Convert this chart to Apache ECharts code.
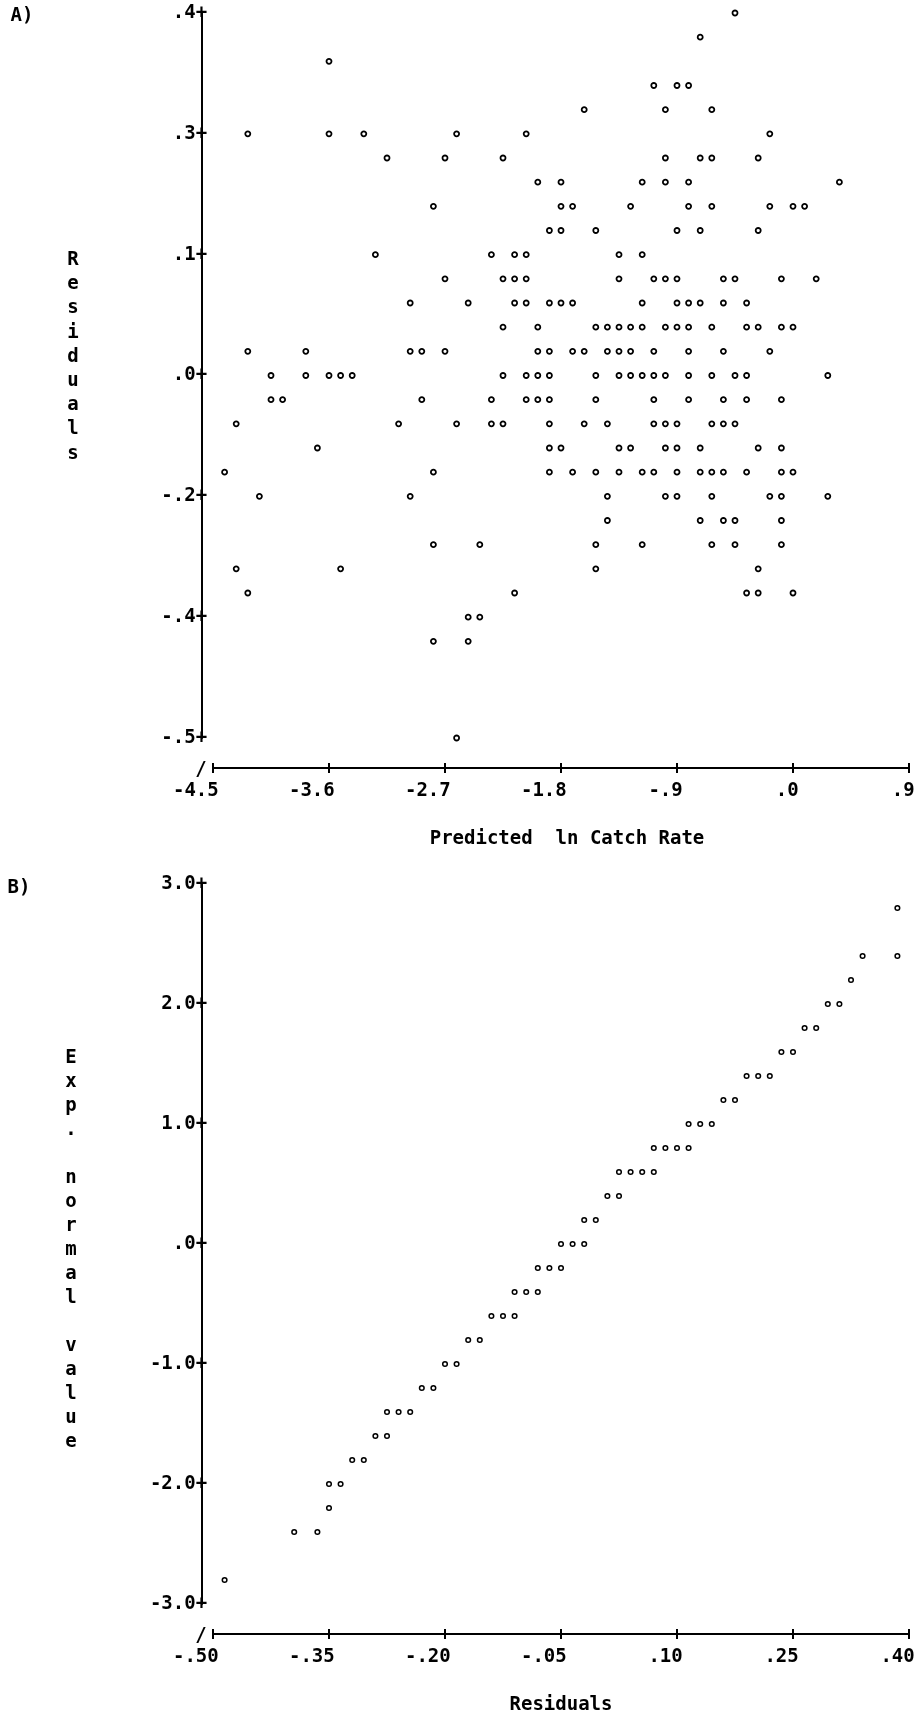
<!DOCTYPE html>
<html>
<head>
<meta charset="utf-8">
<script src="https://cdn.jsdelivr.net/npm/echarts@6/dist/echarts.min.js"></script>
<style>
  html, body { margin: 0; padding: 0; background: #fff; }
  #chart { width: 917px; height: 1721px; }
</style>
</head>
<body>
<div id="chart"></div>
<script>
// ---- Panel A: residuals vs. predicted ln catch rate (one list of predicted values per residual level)
const residualLevelsA = [
  0.40, 0.37, 0.34, 0.31, 0.28, 0.25, 0.22, 0.19, 0.16, 0.13, 0.10, 0.07, 0.04, 0.01,
  -0.02, -0.05, -0.08, -0.11, -0.14, -0.17, -0.20, -0.23, -0.26, -0.29, -0.32, -0.35, -0.38, -0.50
];
const predictedByLevelA = [
  [-0.45],
  [-0.72],
  [-3.60],
  [-1.08, -0.90, -0.81],
  [-1.62, -0.99, -0.63],
  [-4.23, -3.60, -3.33, -2.61, -2.07, -0.18],
  [-3.15, -2.70, -2.25, -0.99, -0.72, -0.63, -0.27],
  [-1.98, -1.80, -1.17, -0.99, -0.81, 0.36],
  [-2.79, -1.80, -1.71, -1.26, -0.81, -0.63, -0.18, 0.00, 0.09],
  [-1.89, -1.80, -1.53, -0.90, -0.72, -0.27],
  [-3.24, -2.34, -2.16, -2.07, -1.35, -1.17],
  [-2.70, -2.25, -2.16, -2.07, -1.35, -1.08, -0.99, -0.90, -0.54, -0.45, -0.09, 0.18],
  [-2.97, -2.52, -2.16, -2.07, -1.89, -1.80, -1.71, -1.17, -0.90, -0.81, -0.72, -0.54, -0.36],
  [-2.25, -1.98, -1.53, -1.44, -1.35, -1.26, -1.17, -0.99, -0.90, -0.81, -0.63, -0.36, -0.27, -0.09, 0.00],
  [-4.23, -3.78, -2.97, -2.88, -2.70, -1.98, -1.89, -1.71, -1.62, -1.44, -1.35, -1.26, -1.08, -0.81, -0.54, -0.18],
  [-4.05, -3.78, -3.60, -3.51, -3.42, -2.25, -2.07, -1.98, -1.89, -1.53, -1.35, -1.26, -1.17, -1.08, -0.99, -0.81, -0.63, -0.45, -0.36, 0.27],
  [-4.05, -3.96, -2.88, -2.34, -2.07, -1.98, -1.89, -1.53, -1.08, -0.81, -0.54, -0.36, -0.09],
  [-4.32, -3.06, -2.61, -2.34, -2.25, -1.89, -1.62, -1.44, -1.08, -0.99, -0.90, -0.63, -0.54, -0.45],
  [-3.69, -1.89, -1.80, -1.35, -1.26, -0.99, -0.90, -0.72, -0.27, -0.09],
  [-4.41, -2.79, -1.89, -1.71, -1.53, -1.35, -1.17, -1.08, -0.90, -0.72, -0.63, -0.54, -0.36, -0.09, 0.00],
  [-4.14, -2.97, -1.44, -0.99, -0.90, -0.63, -0.18, -0.09, 0.27],
  [-1.44, -0.72, -0.54, -0.45, -0.09],
  [-2.79, -2.43, -1.53, -1.17, -0.63, -0.45, -0.09],
  [-4.32, -3.51, -1.53, -0.27],
  [-4.23, -2.16, -0.36, -0.27, 0.00],
  [-2.52, -2.43],
  [-2.79, -2.52],
  [-2.61]
];
const xTicksA = [-4.5, -3.6, -2.7, -1.8, -0.9, 0, 0.9];
const xTickLabelsA = ['-4.5', '-3.6', '-2.7', '-1.8', '-.9', '.0', '.9'];
const yTicksA = [0.4, 0.25, 0.1, -0.05, -0.2, -0.35, -0.5];
const yTickLabelsA = ['.4', '.3', '.1', '.0', '-.2', '-.4', '-.5'];

// ---- Panel B: expected normal value vs. residuals (one list of residuals per expected value)
const expNormalLevelsB = [
  2.8, 2.4, 2.2, 2.0, 1.8, 1.6, 1.4, 1.2, 1.0, 0.8, 0.6, 0.4, 0.2, 0.0,
  -0.2, -0.4, -0.6, -0.8, -1.0, -1.2, -1.4, -1.6, -1.8, -2.0, -2.2, -2.4, -2.8
];
const residualsByLevelB = [
  [0.385],
  [0.34, 0.385],
  [0.325],
  [0.295, 0.31],
  [0.265, 0.28],
  [0.235, 0.25],
  [0.19, 0.205, 0.22],
  [0.16, 0.175],
  [0.115, 0.13, 0.145],
  [0.07, 0.085, 0.1, 0.115],
  [0.025, 0.04, 0.055, 0.07],
  [0.01, 0.025],
  [-0.02, -0.005],
  [-0.05, -0.035, -0.02],
  [-0.08, -0.065, -0.05],
  [-0.11, -0.095, -0.08],
  [-0.14, -0.125, -0.11],
  [-0.17, -0.155],
  [-0.2, -0.185],
  [-0.23, -0.215],
  [-0.275, -0.26, -0.245],
  [-0.29, -0.275],
  [-0.32, -0.305],
  [-0.35, -0.335],
  [-0.35],
  [-0.395, -0.365],
  [-0.485]
];
const xTicksB = [-0.5, -0.35, -0.2, -0.05, 0.1, 0.25, 0.4];
const xTickLabelsB = ['-.50', '-.35', '-.20', '-.05', '.10', '.25', '.40'];
const yTicksB = [3, 2, 1, 0, -1, -2, -3];
const yTickLabelsB = ['3.0', '2.0', '1.0', '.0', '-1.0', '-2.0', '-3.0'];

// ---- helpers
const FONT = '"DejaVu Sans Mono", "Liberation Mono", monospace';
const FONT_SIZE = 19;
const textBase = { color: '#000', fontFamily: FONT, fontWeight: 'bold', fontSize: FONT_SIZE };

// [x, y] points: each level is the y value shared by its list of x values
function pairs(levels, groups) {
  const out = [];
  levels.forEach((lv, i) => groups[i].forEach(v => out.push([v, lv])));
  return out;
}
function findTick(ticks, v) {
  return ticks.findIndex(t => Math.abs(t - v) < 1e-6);
}
// x labels: the last character sits on the tick (monospace, centred with padding spaces)
function xLabel(ticks, labels) {
  return v => {
    const i = findTick(ticks, v);
    if (i < 0) return '';
    const s = labels[i];
    return s + ' '.repeat(s.length - 1);
  };
}
// y labels: printed as "value+" with the "+" on the axis line
function yLabel(ticks, labels) {
  return v => {
    const i = findTick(ticks, v);
    if (i < 0) return '';
    const s = labels[i] + '+';
    return s + ' '.repeat(s.length - 1);
  };
}

function xAxes(grid, min, max, ticks, labels, name, namePad) {
  return [
    {
      gridIndex: grid, type: 'value', min: min, max: max, position: 'bottom', offset: 30,
      axisLine: { show: true, onZero: false, lineStyle: { color: '#000', width: 2 } },
      axisTick: { show: true, length: 5, customValues: ticks, lineStyle: { color: '#000', width: 2 } },
      axisLabel: Object.assign({ customValues: ticks, formatter: xLabel(ticks, labels), margin: 14, align: 'center' }, textBase),
      splitLine: { show: false },
      name: name, nameLocation: 'middle', nameGap: 62,
      nameTextStyle: Object.assign({ padding: namePad }, textBase)
    },
    {
      gridIndex: grid, type: 'value', min: min, max: max, position: 'bottom', offset: 30,
      axisLine: { show: false, onZero: false },
      axisTick: { show: true, inside: true, length: 5, customValues: ticks, lineStyle: { color: '#000', width: 2 } },
      axisLabel: { show: false },
      splitLine: { show: false }
    }
  ];
}
function yAxis(grid, min, max, ticks, labels) {
  return {
    gridIndex: grid, type: 'value', min: min, max: max, position: 'left', offset: 11.6,
    axisLine: { show: true, onZero: false, lineStyle: { color: '#000', width: 2 } },
    axisTick: { show: false },
    axisLabel: Object.assign({ customValues: ticks, formatter: yLabel(ticks, labels), margin: 0, align: 'center', padding: [8, 0, 0, 0] }, textBase),
    splitLine: { show: false }
  };
}

const xa = xAxes(0, -4.5, 0.9, xTicksA, xTickLabelsA, 'Predicted  ln Catch Rate', [0, 0, 0, 12]);
const xb = xAxes(1, -0.5, 0.4, xTicksB, xTickLabelsB, 'Residuals', [0, 0, 0, 0]);

function textEl(str, x, y, align, lineHeight) {
  return {
    type: 'text', silent: true,
    style: {
      text: str, x: x, y: y,
      fill: '#000', font: 'bold ' + FONT_SIZE + 'px ' + FONT,
      textAlign: align, align: align,
      textVerticalAlign: 'top', verticalAlign: 'top',
      lineHeight: lineHeight || 24
    }
  };
}

const chart = echarts.init(document.getElementById('chart'), null, { renderer: 'canvas' });
chart.setOption({
  animation: false,
  backgroundColor: '#fff',
  grid: [
    { left: 213, top: 13, width: 696, height: 725, containLabel: false, outerBoundsMode: 'none' },
    { left: 213, top: 884, width: 696, height: 720, containLabel: false, outerBoundsMode: 'none' }
  ],
  xAxis: [xa[0], xa[1], xb[0], xb[1]],
  yAxis: [
    yAxis(0, -0.5, 0.4, yTicksA, yTickLabelsA),
    yAxis(1, -3, 3, yTicksB, yTickLabelsB)
  ],
  graphic: [
    textEl('A)', 22, 4, 'center'),
    textEl('B)', 19, 876, 'center'),
    textEl('/', 201, 758, 'center'),
    textEl('/', 201, 1624, 'center'),
    textEl('Residuals'.split('').join('\n'), 73, 248, 'center', 24.2),
    textEl('Exp. normal value'.split('').join('\n'), 71, 1046, 'center', 24)
  ],
  series: [
    {
      type: 'scatter', xAxisIndex: 0, yAxisIndex: 0,
      data: pairs(residualLevelsA, predictedByLevelA),
      symbol: 'circle', symbolSize: 5,
      itemStyle: { color: '#fff', borderColor: '#000', borderWidth: 1.8, opacity: 1 },
      emphasis: { disabled: true }
    },
    {
      type: 'scatter', xAxisIndex: 2, yAxisIndex: 1,
      data: pairs(expNormalLevelsB, residualsByLevelB),
      symbol: 'circle', symbolSize: 4.6,
      itemStyle: { color: '#fff', borderColor: '#000', borderWidth: 1.5, opacity: 1 },
      emphasis: { disabled: true }
    }
  ]
});
</script>
</body>
</html>
